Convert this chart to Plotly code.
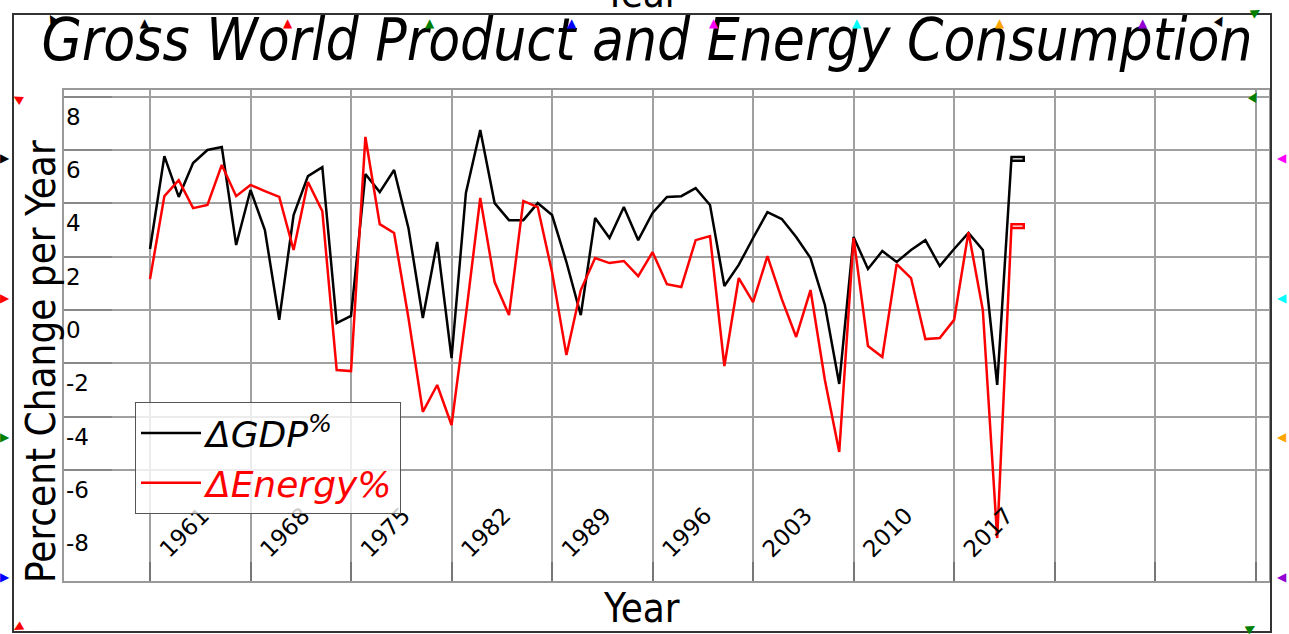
import plotly.graph_objects as go

# Data (percent change per year)
years = list(range(1961, 2022))
gdp_pct = [2.29, 5.77, 4.24, 5.51, 6.00, 6.11, 2.44, 4.50, 3.00, -0.37,
           3.56, 5.02, 5.36, -0.49, -0.22, 5.10, 4.42, 5.25, 3.07, -0.30,
           2.55, -1.80, 4.39, 6.75, 4.01, 3.37, 3.37, 4.01, 3.56, 1.80,
           -0.19, 3.45, 2.70, 3.86, 2.62, 3.64, 4.24, 4.27, 4.57, 3.94,
           0.90, 1.69, 2.70, 3.67, 3.41, 2.74, 1.95, 0.19, -2.77, 2.74,
           1.54, 2.21, 1.80, 2.25, 2.62, 1.65, 2.29, 2.89, 2.25, -2.81,
           5.74]
energy_pct = [1.16, 4.27, 4.87, 3.82, 3.94, 5.44, 4.27, 4.69, 4.46, 4.24,
              2.25, 4.80, 3.71, -2.25, -2.29, 6.49, 3.22, 2.89, -0.30, -3.82,
              -2.81, -4.31, -0.19, 4.20, 1.05, -0.19, 4.09, 3.86, 1.42, -1.69,
              0.75, 1.95, 1.76, 1.84, 1.27, 2.17, 0.97, 0.86, 2.62, 2.77,
              -2.10, 1.20, 0.30, 2.02, 0.41, -1.01, 0.75, -2.62, -5.32, 2.70,
              -1.35, -1.76, 1.72, 1.20, -1.09, -1.05, -0.37, 2.92, 0.00, -8.55,
              3.22]
# small closed box drawn at the end of each series
tail_years = [2021.85, 2021.85, 2021]
gdp_tail = [5.74, 5.60, 5.60]
energy_tail = [3.22, 3.08, 3.08]

x_ticks = list(range(1961, 2039, 7))
x_labels = [str(y) if y <= 2017 else '' for y in x_ticks]
y_ticks = list(range(-8, 9, 2))
y_labels = [str(v) for v in y_ticks]

FONT = 'DejaVu Sans Condensed, DejaVu Sans, sans-serif'
TICKFONT = 'DejaVu Sans, sans-serif'

W, H = 1289, 634
# plot area in pixels, used to place the decorations
L, R, T, B = 64, 1269, 90, 581
def px(x):
    return (x - L) / (R - L)
def py(y):
    return (B - y) / (B - T)

fig = go.Figure()
fig.add_trace(go.Scatter(x=years + tail_years, y=gdp_pct + gdp_tail,
                         mode='lines', name='<i>ΔGDP<sup>%</sup></i>',
                         line=dict(color='black', width=2.5)))
fig.add_trace(go.Scatter(x=years + tail_years, y=energy_pct + energy_tail,
                         mode='lines',
                         name="<i><span style='color:red'>ΔEnergy%</span></i>",
                         line=dict(color='red', width=2.5)))

fig.update_layout(
    width=W, height=H,
    margin=dict(l=L, r=W - R, t=T, b=H - B),
    paper_bgcolor='white', plot_bgcolor='white',
    font=dict(family=FONT, color='black'),
    title=dict(text='<i>Gross World Product and Energy Consumption</i>',
               x=647 / W, xanchor='center', xref='container',
               y=1 - 40 / H, yanchor='middle', yref='container',
               font=dict(size=58, family=FONT)),
    showlegend=True,
    legend=dict(x=px(135), y=py(402), xanchor='left', yanchor='top',
                bgcolor='rgba(255,255,255,0.8)', bordercolor='#555',
                borderwidth=1, font=dict(size=36, family=TICKFONT),
                itemwidth=60, tracegroupgap=0),
    hovermode=False,
)

fig.update_xaxes(range=[1955.01, 2038.93], tickvals=x_ticks, ticktext=x_labels,
                 tickangle=-45, ticklabelposition='inside',
                 ticklabelstandoff=-3, ticklabelshift=11,
                 tickfont=dict(size=23, family=TICKFONT, color='black'),
                 ticks='inside', ticklen=19, tickwidth=2, tickcolor='#777',
                 showgrid=True, gridcolor='#a0a0a0', gridwidth=2,
                 showline=True, mirror=True, linecolor='#999', linewidth=2,
                 zeroline=False)
fig.update_yaxes(range=[-10.16, 8.25], tickvals=y_ticks, showticklabels=False,
                 ticks='inside', ticklen=48, tickwidth=2, tickcolor='#888',
                 showgrid=True, gridcolor='#a0a0a0', gridwidth=2,
                 showline=True, mirror=True, linecolor='#999', linewidth=2,
                 zeroline=False)

# y tick labels: drawn just below each gridline, inside the plot
for v, t in zip(y_ticks, y_labels):
    fig.add_annotation(text=t, xref='paper', yref='y', x=0, y=v,
                       xanchor='left', yanchor='middle', yshift=-20,
                       showarrow=False,
                       font=dict(size=23, family=TICKFONT, color='black'))

# outer frame
fig.add_shape(type='rect', xref='paper', yref='paper',
              x0=px(13), x1=px(1271), y0=py(632), y1=py(14),
              line=dict(color='#333', width=2), layer='above')

# axis titles
fig.add_annotation(text='Percent Change per Year', xref='paper', yref='paper',
                   x=px(41), y=py(362), xanchor='center', yanchor='middle',
                   textangle=-90, showarrow=False,
                   font=dict(size=40, family=FONT))
fig.add_annotation(text='Year', xref='paper', yref='paper',
                   x=px(641), y=py(608), xanchor='center', yanchor='middle',
                   showarrow=False, font=dict(size=40, family=FONT))
fig.add_annotation(text='Year', xref='paper', yref='paper',
                   x=px(641), y=py(-7), xanchor='center', yanchor='middle',
                   showarrow=False, font=dict(size=40, family=FONT))

# small coloured triangle markers around the frame
marks = [
    (145, 23, '▲', 'black', 0), (288, 23, '▲', 'red', 0),
    (430, 23, '▲', 'green', 0), (572, 23, '▲', 'blue', 0),
    (714, 23, '▲', 'magenta', 0), (857, 23, '▲', 'cyan', 0),
    (1000, 23, '▲', 'orange', 0), (1143, 23, '▲', 'darkviolet', 0),
    (52, 18, '▲', 'black', -30), (1221, 20, '▲', 'black', 30),
    (1257, 12, '▲', 'green', 60), (1255, 96, '▲', 'green', 30),
    (17, 98, '▲', 'red', -60), (17, 628, '▲', 'red', -120),
    (1252, 628, '▲', 'green', 60),
    (5, 158, '▶', 'black', 0), (5, 298, '▶', 'red', 0),
    (5, 437, '▶', 'green', 0), (5, 577, '▶', 'blue', 0),
    (1282, 158, '◀', 'magenta', 0), (1282, 298, '◀', 'cyan', 0),
    (1282, 437, '◀', 'orange', 0), (1282, 577, '◀', 'darkviolet', 0),
]
for mx, my, sym, col, ang in marks:
    fig.add_annotation(text=sym, xref='paper', yref='paper', x=px(mx), y=py(my),
                       xanchor='center', yanchor='middle',
                       showarrow=False, textangle=ang,
                       font=dict(size=12, color=col, family='DejaVu Sans'))

# drop the default page margin so the figure fills the window exactly
fig.write_html('out.html', config={'staticPlot': True},
               post_script="document.body.style.margin='0';")
